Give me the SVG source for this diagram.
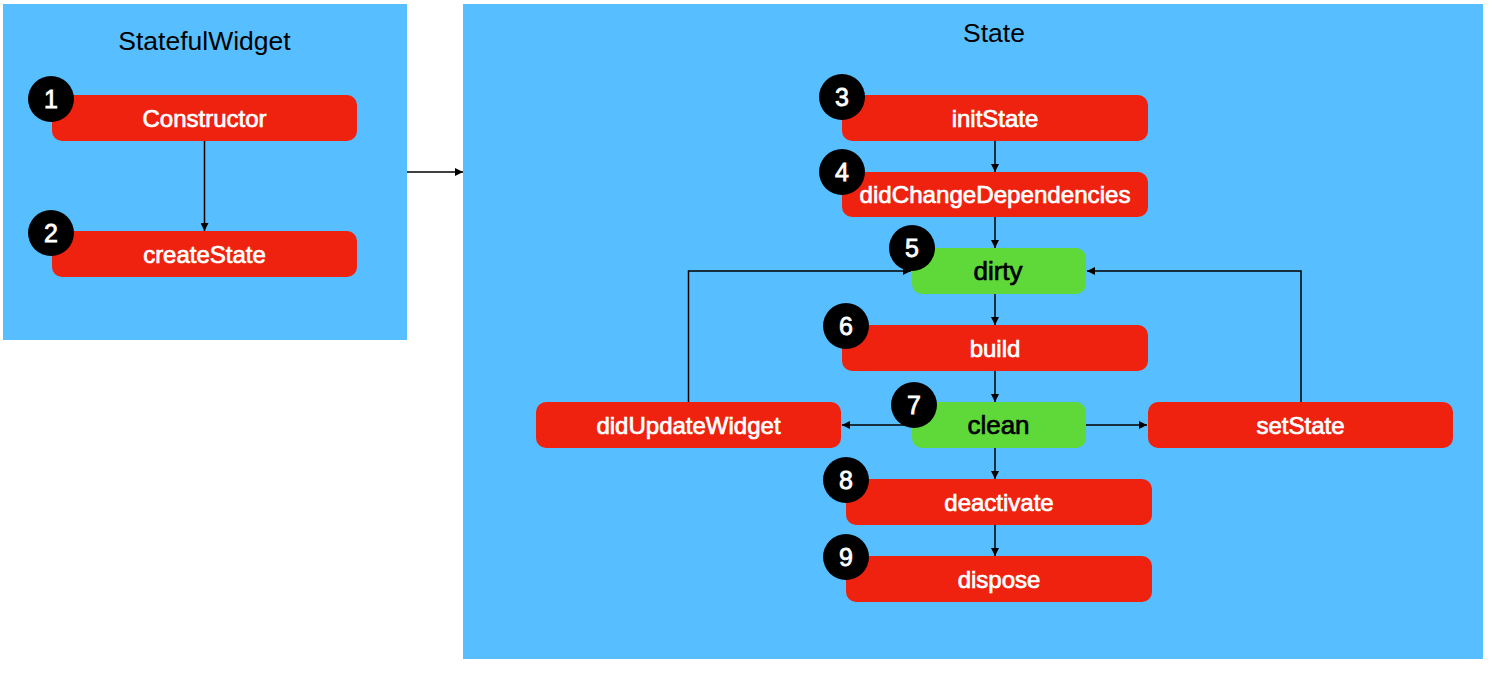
<svg xmlns="http://www.w3.org/2000/svg" width="1498" height="683" viewBox="0 0 1498 683">
<defs>
<marker id="arr" viewBox="0 0 10 10" refX="10" refY="5" markerWidth="8" markerHeight="8" markerUnits="userSpaceOnUse" orient="auto">
<path d="M0,0 L10,5 L0,10 z" fill="#000"/>
</marker>
<style>
.panel{fill:#57BFFF}
.red{fill:#EE220F}
.green{fill:#5FD93A}
.badge{fill:#000}
.title{font-family:"Liberation Sans",Arial,sans-serif;font-size:26.5px;fill:#000;text-anchor:middle}
.lbl{font-family:"Liberation Sans",Arial,sans-serif;font-size:24px;fill:#fff;stroke:#fff;stroke-width:0.7;text-anchor:middle}
.lblk{font-family:"Liberation Sans",Arial,sans-serif;font-size:26px;fill:#000;stroke:#000;stroke-width:0.7;text-anchor:middle}
.num{font-family:"Liberation Sans",Arial,sans-serif;font-size:25px;fill:#fff;stroke:#fff;stroke-width:0.8;text-anchor:middle}
.ln{stroke:#000;stroke-width:1.5;fill:none}
</style>
</defs>
<rect width="1498" height="683" fill="#fff"/>
<g id="panel-statefulwidget">
<rect class="panel" x="3" y="4" width="404" height="336"/>
<text class="title" x="204.5" y="50">StatefulWidget</text>
</g>
<g id="panel-state">
<rect class="panel" x="463" y="4" width="1020" height="655"/>
<text class="title" x="994" y="42">State</text>
</g>
<g id="connectors">
<line class="ln" x1="204.5" y1="141" x2="204.5" y2="231" marker-end="url(#arr)"/>
<line class="ln" x1="407" y1="172" x2="463" y2="172" marker-end="url(#arr)"/>
<line class="ln" x1="995" y1="141" x2="995" y2="172" marker-end="url(#arr)"/>
<line class="ln" x1="995" y1="217" x2="995" y2="248" marker-end="url(#arr)"/>
<line class="ln" x1="995" y1="294" x2="995" y2="325" marker-end="url(#arr)"/>
<line class="ln" x1="995" y1="371" x2="995" y2="402" marker-end="url(#arr)"/>
<line class="ln" x1="995" y1="448" x2="995" y2="479" marker-end="url(#arr)"/>
<line class="ln" x1="995" y1="525" x2="995" y2="556" marker-end="url(#arr)"/>
<line class="ln" x1="912" y1="425" x2="842" y2="425" marker-end="url(#arr)"/>
<line class="ln" x1="1086" y1="425" x2="1147" y2="425" marker-end="url(#arr)"/>
<polyline class="ln" points="688.5,402 688.5,271 911,271" marker-end="url(#arr)"/>
<polyline class="ln" points="1301,402 1301,271 1087,271" marker-end="url(#arr)"/>
</g>
<g id="node-constructor">
<rect class="red" x="52" y="95" width="305" height="46" rx="10"/>
<text class="lbl" x="204.5" y="127">Constructor</text>
<circle class="badge" cx="51" cy="99" r="23"/>
<text class="num" x="51" y="108">1</text>
</g>
<g id="node-createstate">
<rect class="red" x="52" y="231" width="305" height="46" rx="10"/>
<text class="lbl" x="204.5" y="263">createState</text>
<circle class="badge" cx="51" cy="233" r="23"/>
<text class="num" x="51" y="242">2</text>
</g>
<g id="node-initstate">
<rect class="red" x="842" y="95" width="306" height="46" rx="10"/>
<text class="lbl" x="995" y="127">initState</text>
<circle class="badge" cx="842" cy="97" r="23"/>
<text class="num" x="842" y="106">3</text>
</g>
<g id="node-didchangedependencies">
<rect class="red" x="842" y="172" width="306" height="45" rx="10"/>
<text class="lbl" x="995" y="203" textLength="271" lengthAdjust="spacingAndGlyphs">didChangeDependencies</text>
<circle class="badge" cx="842" cy="172" r="23"/>
<text class="num" x="842" y="181">4</text>
</g>
<g id="node-dirty">
<rect class="green" x="912" y="248" width="174" height="46" rx="10"/>
<text class="lblk" x="998" y="280">dirty</text>
<circle class="badge" cx="912" cy="248" r="23"/>
<text class="num" x="912" y="257">5</text>
</g>
<g id="node-build">
<rect class="red" x="842" y="325" width="306" height="46" rx="10"/>
<text class="lbl" x="995" y="357">build</text>
<circle class="badge" cx="846" cy="326" r="23"/>
<text class="num" x="846" y="335">6</text>
</g>
<g id="node-didupdatewidget">
<rect class="red" x="536" y="402" width="305" height="46" rx="10"/>
<text class="lbl" x="688.5" y="434">didUpdateWidget</text>
</g>
<g id="node-clean">
<rect class="green" x="912" y="402" width="174" height="46" rx="10"/>
<text class="lblk" x="998.5" y="434">clean</text>
<circle class="badge" cx="914" cy="405" r="23"/>
<text class="num" x="914" y="414">7</text>
</g>
<g id="node-setstate">
<rect class="red" x="1148" y="402" width="305" height="46" rx="10"/>
<text class="lbl" x="1300.5" y="434">setState</text>
</g>
<g id="node-deactivate">
<rect class="red" x="846" y="479" width="306" height="46" rx="10"/>
<text class="lbl" x="999" y="511">deactivate</text>
<circle class="badge" cx="846" cy="480" r="23"/>
<text class="num" x="846" y="489">8</text>
</g>
<g id="node-dispose">
<rect class="red" x="846" y="556" width="306" height="46" rx="10"/>
<text class="lbl" x="999" y="588">dispose</text>
<circle class="badge" cx="846" cy="557" r="23"/>
<text class="num" x="846" y="566">9</text>
</g>
</svg>
